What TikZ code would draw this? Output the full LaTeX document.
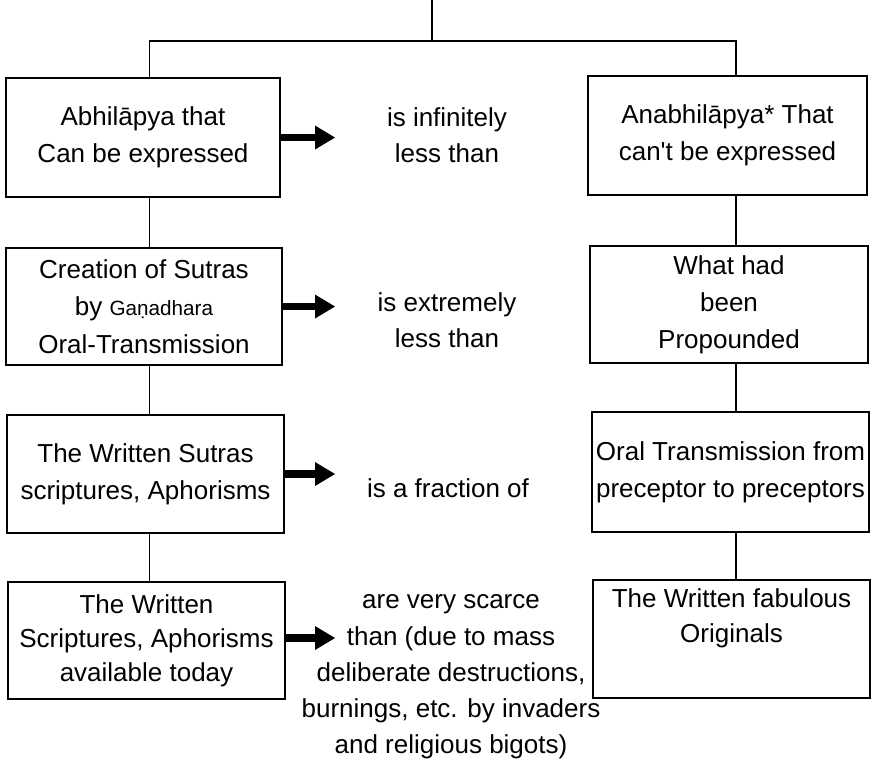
\documentclass[tikz,border=0pt]{standalone}
\usepackage{fontspec}
\setmainfont{Liberation Sans}
\usetikzlibrary{arrows.meta,calc}
\begin{document}
\begin{tikzpicture}[x=0.75pt,y=-0.75pt,
  box/.style={draw, line width=1.5pt, inner sep=0pt, align=center,
    font=\fontsize{19.5pt}{27.9pt}\selectfont},
  midtext/.style={inner sep=0pt, align=center,
    font=\fontsize{19.5pt}{27.2pt}\selectfont},
  link/.style={line width=1.4pt},
  bigarrow/.style={line width=5.6pt,
    -{Triangle[length=15pt,width=18pt,line width=0pt]}}]
\useasboundingbox (0,0) rectangle (877,764);

% left column
\node[box, minimum width=205.5pt, minimum height=89.25pt] (L1) at (143,137.5)
  {Abhil\={a}pya that\\Can be expressed};
\node[box, minimum width=207pt, minimum height=87.75pt] (L2) at (144,306.5)
  {Creation of Sutras\\by {\fontsize{15.5pt}{18pt}\selectfont Gaṇadhara}\\Oral-Transmission};
\node[box, minimum width=207.75pt, minimum height=88.5pt] (L3) at (145.5,474)
  {The Written Sutras\\scriptures, Aphorisms};
\node[box, minimum width=207.75pt, minimum height=87.75pt,
  font=\fontsize{19.5pt}{25.5pt}\selectfont] (L4) at (146.5,640.5)
  {The Written\\Scriptures, Aphorisms\\available today};

% right column
\node[box, minimum width=209.25pt, minimum height=89.25pt] (R1) at (727.5,135.5)
  {Anabhil\={a}pya* That\\can\textquotesingle t be expressed};
\node[box, minimum width=208.5pt, minimum height=87.75pt] (R2) at (729,304.5)
  {What had\\been\\Propounded};
\node[box, minimum width=207.75pt, minimum height=90pt] (R3) at (730.5,472)
  {Oral Transmission from\\preceptor to preceptors};
\node[box, minimum width=207.75pt, minimum height=88.5pt,
  font=\fontsize{19.5pt}{26pt}\selectfont] (R4) at (731.5,639)
  {The Written fabulous\\Originals\\[9pt]\mbox{}};

% middle texts
\node[midtext] (M1) at (447,135) {is infinitely\\less than};
\node[midtext] (M2) at (447,320.5) {is extremely\\less than};
\node[midtext] (M3) at (448,488) {is a fraction of};
\node[midtext] (M4) at (451,677)
  {are very scarce\\than (due to mass\\deliberate destructions,\\burnings, etc. by invaders\\and religious bigots)};

% helper coordinates
\coordinate (top) at (432,0);
\coordinate (jn) at (432,41);
\coordinate (lvx) at (149.5,0);
\coordinate (rvx) at (736,0);
\coordinate (tipx) at (335,0);

% tree connectors
\draw[link] (top) -- (jn);
\draw[link] (L1.north -| lvx) |- (jn) -| (R1.north -| rvx);
\draw[link] (L1.south -| lvx) -- (L2.north -| lvx);
\draw[link] (L2.south -| lvx) -- (L3.north -| lvx);
\draw[link] (L3.south -| lvx) -- (L4.north -| lvx);
\draw[link] (R1.south -| rvx) -- (R2.north -| rvx);
\draw[link] (R2.south -| rvx) -- (R3.north -| rvx);
\draw[link] (R3.south -| rvx) -- (R4.north -| rvx);

% thick arrows
\draw[bigarrow] (L1.east) -- (L1.east -| tipx);
\draw[bigarrow] (L2.east) -- (L2.east -| tipx);
\draw[bigarrow] (L3.east) -- (L3.east -| tipx);
\draw[bigarrow] (L4.east |- 0,638) -- (tipx |- 0,638);
\end{tikzpicture}
\end{document}
